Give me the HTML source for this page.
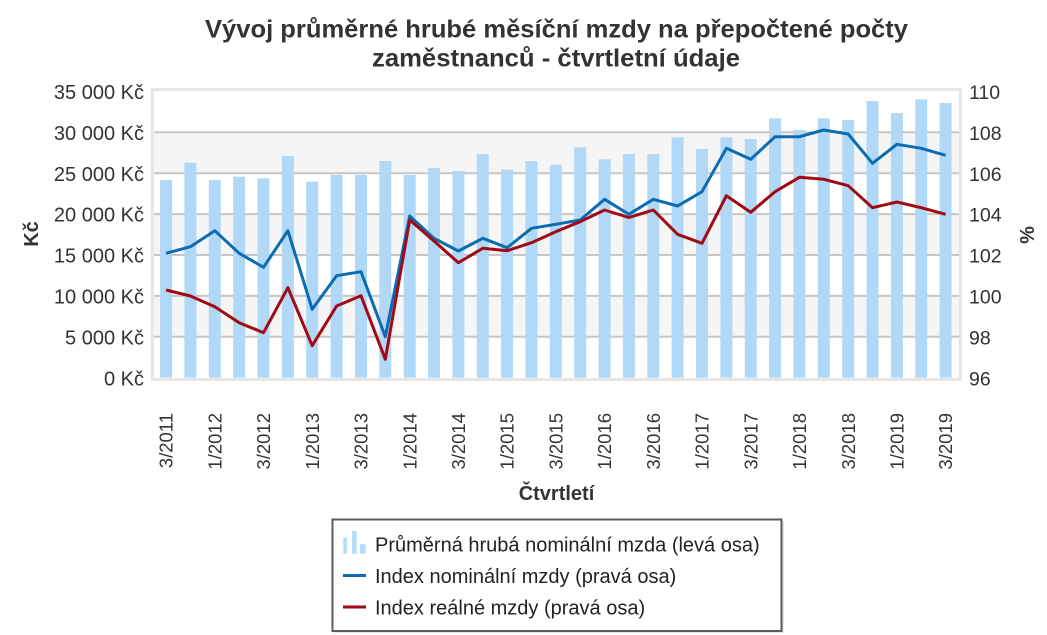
<!DOCTYPE html>
<html>
<head>
<meta charset="utf-8">
<style>
html,body{margin:0;padding:0;background:#fff;}
svg{display:block;font-family:"Liberation Sans",Arial,sans-serif;}
</style>
</head>
<body>
<svg width="1047" height="635" viewBox="0 0 1047 635" xmlns="http://www.w3.org/2000/svg">
<rect x="0" y="0" width="1047" height="635" fill="#fff"/>
<!-- Title -->
<text x="556.5" y="37.5" text-anchor="middle" font-size="25" font-weight="bold" fill="#333" textLength="703" lengthAdjust="spacingAndGlyphs">Vývoj průměrné hrubé měsíční mzdy na přepočtené počty</text>
<text x="556" y="66.5" text-anchor="middle" font-size="25" font-weight="bold" fill="#333" textLength="368" lengthAdjust="spacingAndGlyphs">zaměstnanců - čtvrtletní údaje</text>

<!-- Plot background bands -->
<rect x="154" y="91.4" width="805" height="286.3" fill="#fff"/>
<rect x="154" y="132.3" width="805" height="40.9" fill="#f5f5f5"/>
<rect x="154" y="214.1" width="805" height="40.9" fill="#f5f5f5"/>
<rect x="154" y="295.9" width="805" height="40.9" fill="#f5f5f5"/>
<!-- Gridlines -->
<g stroke="#c6c6c6" stroke-width="2">
<line x1="154" x2="959" y1="132.3" y2="132.3"/>
<line x1="154" x2="959" y1="173.2" y2="173.2"/>
<line x1="154" x2="959" y1="214.1" y2="214.1"/>
<line x1="154" x2="959" y1="255" y2="255"/>
<line x1="154" x2="959" y1="295.9" y2="295.9"/>
<line x1="154" x2="959" y1="336.8" y2="336.8"/>
</g>
<!-- Frame -->
<rect x="152.3" y="89.5" width="808" height="290" fill="none" stroke="#e3e3e3" stroke-width="2.6"/>

<!-- Bars -->
<g fill="#b1d8f6">
<rect x="160.1" y="180" width="12" height="197.7"/>
<rect x="184.4" y="162.7" width="12" height="215"/>
<rect x="208.8" y="180" width="12" height="197.7"/>
<rect x="233.2" y="176.7" width="12" height="201"/>
<rect x="257.5" y="178.3" width="12" height="199.4"/>
<rect x="281.9" y="156" width="12" height="221.7"/>
<rect x="306.2" y="181.7" width="12" height="196"/>
<rect x="330.6" y="175" width="12" height="202.7"/>
<rect x="355" y="175" width="12" height="202.7"/>
<rect x="379.3" y="161" width="12" height="216.7"/>
<rect x="403.7" y="175" width="12" height="202.7"/>
<rect x="428" y="168" width="12" height="209.7"/>
<rect x="452.4" y="171" width="12" height="206.7"/>
<rect x="476.8" y="154" width="12" height="223.7"/>
<rect x="501.1" y="169.7" width="12" height="208"/>
<rect x="525.5" y="161" width="12" height="216.7"/>
<rect x="549.8" y="164.7" width="12" height="213"/>
<rect x="574.2" y="147.3" width="12" height="230.4"/>
<rect x="598.6" y="159.3" width="12" height="218.4"/>
<rect x="622.9" y="154" width="12" height="223.7"/>
<rect x="647.3" y="154" width="12" height="223.7"/>
<rect x="671.6" y="137.3" width="12" height="240.4"/>
<rect x="696" y="149" width="12" height="228.7"/>
<rect x="720.4" y="137.3" width="12" height="240.4"/>
<rect x="744.7" y="139" width="12" height="238.7"/>
<rect x="769.1" y="118.3" width="12" height="259.4"/>
<rect x="793.4" y="130" width="12" height="247.7"/>
<rect x="817.8" y="118.3" width="12" height="259.4"/>
<rect x="842.2" y="120" width="12" height="257.7"/>
<rect x="866.5" y="101" width="12" height="276.7"/>
<rect x="890.9" y="113" width="12" height="264.7"/>
<rect x="915.2" y="99.3" width="12" height="278.4"/>
<rect x="939.6" y="103" width="12" height="274.7"/>
</g>

<!-- Lines -->
<polyline fill="none" stroke="#0b6cb3" stroke-width="3" stroke-linejoin="round" points="166.1,253.3 190.4,246.7 214.8,230.7 239.2,253.3 263.5,267.3 287.9,230.7 312.2,309.3 336.6,275.7 361,271.7 385.3,336.7 409.7,216 434,238.3 458.4,251 482.8,238.3 507.1,247.7 531.5,228.3 555.8,224.3 580.2,220 604.6,199.3 628.9,214.3 653.3,199.3 677.6,206 702,191.7 726.4,148.3 750.7,159.3 775.1,136.7 799.4,136.7 823.8,130 848.2,134 872.5,163.3 896.9,144.3 921.2,148.3 945.6,155.3"/>
<polyline fill="none" stroke="#a10a14" stroke-width="3" stroke-linejoin="round" points="166.1,290 190.4,296 214.8,306.7 239.2,322.7 263.5,332.7 287.9,287.7 312.2,345.7 336.6,306 361,295.7 385.3,359.3 409.7,220 434,241 458.4,262.7 482.8,248.3 507.1,250.7 531.5,242.7 555.8,231.7 580.2,221.7 604.6,210 628.9,217.5 653.3,210 677.6,234.3 702,243.3 726.4,195.7 750.7,212.3 775.1,191.7 799.4,177.3 823.8,179.3 848.2,185.7 872.5,207.7 896.9,202 921.2,207.7 945.6,214.3"/>

<!-- Left axis labels -->
<g font-size="20" fill="#333" text-anchor="end">
<text x="144" y="99">35 000 Kč</text>
<text x="144" y="139.9">30 000 Kč</text>
<text x="144" y="180.8">25 000 Kč</text>
<text x="144" y="221.7">20 000 Kč</text>
<text x="144" y="262.6">15 000 Kč</text>
<text x="144" y="303.5">10 000 Kč</text>
<text x="144" y="344.4">5 000 Kč</text>
<text x="144" y="385.3">0 Kč</text>
</g>
<!-- Right axis labels -->
<g font-size="19.5" fill="#333" text-anchor="start">
<text x="969" y="99">110</text>
<text x="969" y="139.9">108</text>
<text x="969" y="180.8">106</text>
<text x="969" y="221.7">104</text>
<text x="969" y="262.6">102</text>
<text x="969" y="303.5">100</text>
<text x="969" y="344.4">98</text>
<text x="969" y="385.3">96</text>
</g>
<!-- Axis titles -->
<text transform="translate(38,234) rotate(-90)" text-anchor="middle" font-size="20" font-weight="bold" fill="#333">Kč</text>
<text transform="translate(1034,235) rotate(-90)" text-anchor="middle" font-size="20" font-weight="bold" fill="#333">%</text>
<text x="556.5" y="500" text-anchor="middle" font-size="20" font-weight="bold" fill="#333">Čtvrtletí</text>

<!-- X labels -->
<g font-size="18.5" fill="#333" text-anchor="end">
<text transform="translate(172.7,413) rotate(-90)">3/2011</text>
<text transform="translate(221.4,413) rotate(-90)">1/2012</text>
<text transform="translate(270.1,413) rotate(-90)">3/2012</text>
<text transform="translate(318.8,413) rotate(-90)">1/2013</text>
<text transform="translate(367.6,413) rotate(-90)">3/2013</text>
<text transform="translate(416.3,413) rotate(-90)">1/2014</text>
<text transform="translate(465,413) rotate(-90)">3/2014</text>
<text transform="translate(513.7,413) rotate(-90)">1/2015</text>
<text transform="translate(562.4,413) rotate(-90)">3/2015</text>
<text transform="translate(611.2,413) rotate(-90)">1/2016</text>
<text transform="translate(659.9,413) rotate(-90)">3/2016</text>
<text transform="translate(708.6,413) rotate(-90)">1/2017</text>
<text transform="translate(757.3,413) rotate(-90)">3/2017</text>
<text transform="translate(806,413) rotate(-90)">1/2018</text>
<text transform="translate(854.8,413) rotate(-90)">3/2018</text>
<text transform="translate(903.5,413) rotate(-90)">1/2019</text>
<text transform="translate(952.2,413) rotate(-90)">3/2019</text>
</g>

<!-- Legend -->
<rect x="334" y="521" width="450" height="112" fill="#e8e8e8"/>
<rect x="332.5" y="519.5" width="449" height="111.5" fill="#fff" stroke="#5a5a5a" stroke-width="2"/>
<g fill="#b8dcf7">
<rect x="343.3" y="537.7" width="3.6" height="16"/>
<rect x="352" y="531" width="4.7" height="22.7"/>
<rect x="360" y="544.3" width="5.7" height="9.4"/>
</g>
<line x1="343" x2="366" y1="575.5" y2="575.5" stroke="#0b6cb3" stroke-width="3"/>
<line x1="343" x2="366" y1="607" y2="607" stroke="#a10a14" stroke-width="3"/>
<g font-size="20" fill="#222">
<text x="375" y="551.5">Průměrná hrubá nominální mzda (levá osa)</text>
<text x="375" y="583">Index nominální mzdy (pravá osa)</text>
<text x="375" y="614.5">Index reálné mzdy (pravá osa)</text>
</g>
</svg>
</body>
</html>
